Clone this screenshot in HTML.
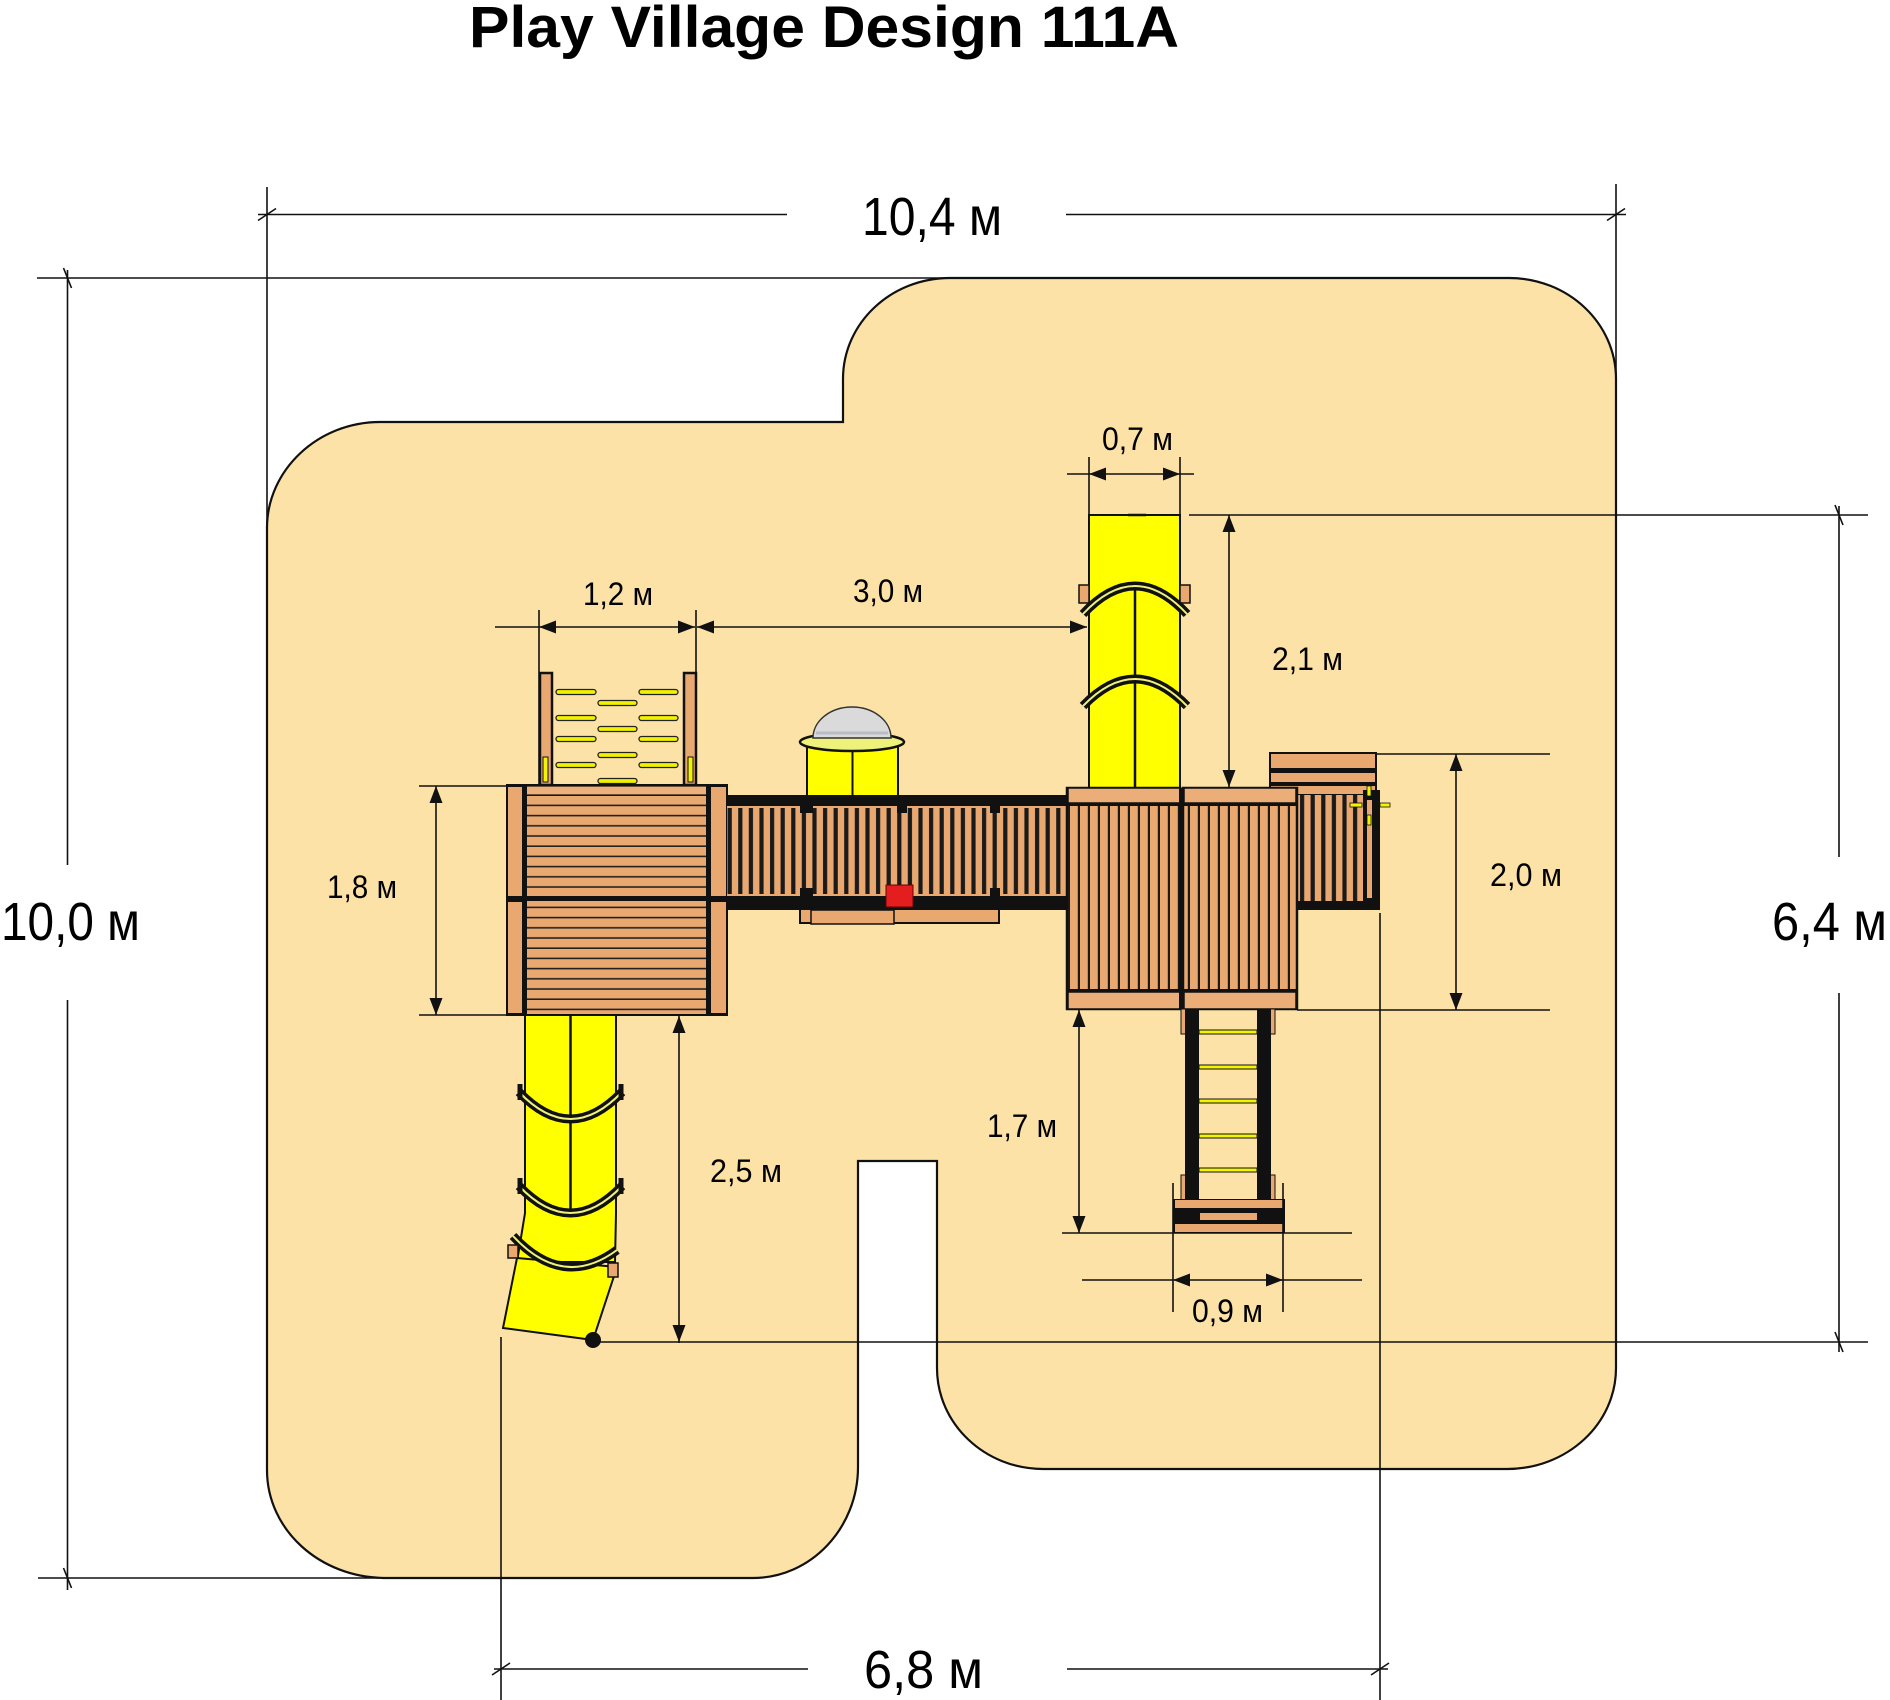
<!DOCTYPE html>
<html><head><meta charset="utf-8"><style>html,body{margin:0;padding:0;background:#fff}svg{display:block}</style></head>
<body>
<svg width="1890" height="1700" viewBox="0 0 1890 1700" xmlns="http://www.w3.org/2000/svg" font-family="'Liberation Sans', Arial, sans-serif">
<defs>
<pattern id="hpl" patternUnits="userSpaceOnUse" x="0" y="796" width="20" height="10.2">
 <rect width="20" height="10.2" fill="#E9A870"/>
 <rect y="8.6" width="20" height="1.6" fill="#222"/>
</pattern>
<pattern id="brs" patternUnits="userSpaceOnUse" x="729" y="0" width="10.6" height="20">
 <rect width="10.6" height="20" fill="#1a1a1a"/>
 <rect x="2.8" width="6.4" height="20" fill="#E9A870"/>
</pattern>
<pattern id="tws" patternUnits="userSpaceOnUse" x="1070" y="0" width="10" height="20">
 <rect width="10" height="20" fill="#E9A870"/>
 <rect x="7.8" width="2.2" height="20" fill="#1a1a1a"/>
</pattern>
</defs>

<!-- Title -->
<text x="469" y="47" font-size="58" font-weight="bold" textLength="710" lengthAdjust="spacingAndGlyphs" fill="#000">Play Village Design 111A</text>

<!-- Sand area -->
<path d="M267,528 C267,470 318,422 380,422 L843,422 L843,379 C843,323 891,278 950,278 L1509,278 C1568,278 1616,323 1616,379 L1616,1368 C1616,1424 1567,1469 1507,1469 L1043,1469 C985,1469 937,1424 937,1368 L937,1161 L858,1161 L858,1467 C858,1528 811,1578 753,1578 L386,1578 C320,1578 267,1530 267,1470 Z" fill="#FCE2A7" stroke="#111" stroke-width="2.2"/>

<!-- ===== Left tower ===== -->
<!-- climbing wall rails -->
<rect x="540" y="673" width="12" height="112" fill="#E9A870" stroke="#111" stroke-width="2.5"/>
<rect x="543" y="757" width="5" height="25" fill="#F4F400" stroke="#111" stroke-width="1"/>
<rect x="684" y="673" width="12" height="112" fill="#E9A870" stroke="#111" stroke-width="2.5"/>
<rect x="688" y="757" width="5" height="25" fill="#F4F400" stroke="#111" stroke-width="1"/>
<!-- holds -->
<g fill="#F2F200" stroke="#222" stroke-width="1.3">
 <rect x="556" y="689.5" width="40" height="5" rx="2.5"/><rect x="639" y="689.5" width="39" height="5" rx="2.5"/>
 <rect x="556" y="715.5" width="40" height="5" rx="2.5"/><rect x="639" y="715.5" width="39" height="5" rx="2.5"/>
 <rect x="556" y="736.5" width="40" height="5" rx="2.5"/><rect x="639" y="736.5" width="39" height="5" rx="2.5"/>
 <rect x="556" y="762.5" width="40" height="5" rx="2.5"/><rect x="639" y="762.5" width="39" height="5" rx="2.5"/>
 <rect x="598" y="700.5" width="39" height="5" rx="2.5"/>
 <rect x="598" y="726.5" width="39" height="5" rx="2.5"/>
 <rect x="598" y="752.5" width="39" height="5" rx="2.5"/>
 <rect x="598" y="778.5" width="39" height="5" rx="2.5"/>
</g>
<!-- deck -->
<rect x="507" y="785" width="220" height="230" fill="#E9A870" stroke="#111" stroke-width="2"/>
<rect x="523" y="786" width="187" height="228" fill="url(#hpl)"/>
<rect x="523" y="786" width="187" height="9" fill="#EDB07A" stroke="#111" stroke-width="1.2"/>
<rect x="507" y="786" width="16" height="111" fill="#E9A870" stroke="#111" stroke-width="2"/>
<rect x="507" y="901" width="16" height="113" fill="#E9A870" stroke="#111" stroke-width="2"/>
<rect x="710" y="786" width="17" height="111" fill="#E9A870" stroke="#111" stroke-width="2"/>
<rect x="710" y="901" width="17" height="113" fill="#E9A870" stroke="#111" stroke-width="2"/>
<rect x="507" y="896" width="220" height="5" fill="#111"/>
<rect x="523" y="786" width="4" height="228" fill="#111"/>
<rect x="706" y="786" width="4" height="228" fill="#111"/>

<!-- ===== Bridge ===== -->
<rect x="800" y="903" width="199" height="20" fill="#E9A870" stroke="#111" stroke-width="2"/>
<rect x="811" y="910" width="83" height="14" fill="#E9A870" stroke="#111" stroke-width="1.5"/>
<rect x="727" y="795" width="341" height="115" fill="url(#brs)"/>
<rect x="727" y="795" width="341" height="11" fill="#111"/>
<rect x="727" y="806" width="341" height="2" fill="#E9A870"/>
<rect x="727" y="894" width="341" height="2" fill="#E9A870"/>
<rect x="727" y="896" width="341" height="14" fill="#111"/>
<g fill="#111">
 <rect x="800" y="795" width="13" height="18"/><rect x="800" y="888" width="13" height="22"/>
 <rect x="897" y="795" width="10" height="18"/><rect x="897" y="888" width="10" height="22"/>
 <rect x="990" y="795" width="10" height="18"/><rect x="990" y="888" width="10" height="22"/>
</g>
<rect x="886" y="885" width="27" height="22" fill="#E41E1E" stroke="#600" stroke-width="1"/>

<!-- dome / periscope -->
<rect x="807" y="740" width="91" height="56" fill="#FFFF00" stroke="#111" stroke-width="2"/>
<line x1="852.5" y1="740" x2="852.5" y2="795" stroke="#111" stroke-width="2"/>
<ellipse cx="852" cy="742" rx="52" ry="9" fill="#EEF27A" stroke="#111" stroke-width="2.5"/>
<path d="M813,738 A39,31 0 0 1 891,738 Z" fill="#DADADA" stroke="#333" stroke-width="1.5"/>
<path d="M816,733 L888,733" stroke="#B8BCC8" stroke-width="3"/>

<!-- ===== Right tower ===== -->
<rect x="1089" y="515" width="91" height="274" fill="#FFFF00" stroke="#111" stroke-width="2"/>
<line x1="1128" y1="515" x2="1146" y2="515" stroke="#111" stroke-width="2.5"/>
<line x1="1135" y1="583" x2="1135" y2="790" stroke="#111" stroke-width="2.5"/>
<rect x="1079" y="585" width="10" height="18" fill="#E9A870" stroke="#111" stroke-width="1.5"/>
<rect x="1180" y="585" width="10" height="18" fill="#E9A870" stroke="#111" stroke-width="1.5"/>
<path d="M1083,614 Q1135,558 1187,614" fill="none" stroke="#111" stroke-width="9"/>
<path d="M1083,614 Q1135,558 1187,614" fill="none" stroke="#EEF27A" stroke-width="2"/>
<path d="M1083,706 Q1135,652 1187,706" fill="none" stroke="#111" stroke-width="9"/>
<path d="M1083,706 Q1135,652 1187,706" fill="none" stroke="#EEF27A" stroke-width="2"/>

<!-- right bench & small bridge -->
<rect x="1270" y="753" width="106" height="42" fill="#E9A870" stroke="#111" stroke-width="2"/>
<rect x="1270" y="768" width="106" height="5" fill="#111"/>
<rect x="1270" y="782" width="106" height="4" fill="#111"/>
<rect x="1297" y="795" width="75" height="115" fill="url(#brs)"/>
<rect x="1297" y="901" width="80" height="9" fill="#111"/>
<rect x="1363" y="790" width="17" height="120" fill="#111"/>
<rect x="1367" y="800" width="5" height="98" fill="#E9A870"/>
<g fill="#F4F400" stroke="#111" stroke-width="0.8">
 <rect x="1350" y="803" width="12" height="4"/><rect x="1380" y="803" width="10" height="4"/>
 <rect x="1367" y="786" width="4" height="10"/><rect x="1367" y="815" width="4" height="10"/>
</g>

<!-- tower sections -->
<rect x="1067" y="788" width="113" height="221" fill="url(#tws)" stroke="#111" stroke-width="2.5"/>
<rect x="1183" y="788" width="114" height="221" fill="url(#tws)" stroke="#111" stroke-width="2.5"/>
<rect x="1068" y="788" width="112" height="15" fill="#EBAE78" stroke="#111" stroke-width="1.5"/>
<rect x="1184" y="788" width="112" height="15" fill="#EBAE78" stroke="#111" stroke-width="1.5"/>
<rect x="1068" y="992" width="112" height="17" fill="#EBAE78" stroke="#111" stroke-width="1.5"/>
<rect x="1184" y="992" width="112" height="17" fill="#EBAE78" stroke="#111" stroke-width="1.5"/>
<rect x="1067" y="803" width="230" height="3" fill="#111"/>
<rect x="1067" y="989" width="230" height="3" fill="#111"/>
<rect x="1179" y="788" width="5" height="221" fill="#111"/>

<!-- ladder -->
<g fill="#E9A870" stroke="#111" stroke-width="1">
 <rect x="1181" y="1009" width="5" height="25"/><rect x="1270" y="1009" width="5" height="25"/>
 <rect x="1181" y="1175" width="5" height="25"/><rect x="1270" y="1175" width="5" height="25"/>
</g>
<rect x="1185" y="1009" width="14" height="214" fill="#111"/>
<rect x="1257" y="1009" width="14" height="214" fill="#111"/>
<g fill="#F4F400" stroke="#111" stroke-width="1">
 <rect x="1199" y="1030" width="58" height="4"/>
 <rect x="1199" y="1065" width="58" height="4"/>
 <rect x="1199" y="1099" width="58" height="4"/>
 <rect x="1199" y="1134" width="58" height="4"/>
 <rect x="1199" y="1168" width="58" height="4"/>
</g>
<rect x="1173" y="1199" width="112" height="34" fill="#111"/>
<rect x="1175" y="1200" width="108" height="8" fill="#E9A870"/>
<rect x="1200" y="1213" width="57" height="7" fill="#E9A870"/>
<rect x="1175" y="1224" width="108" height="8" fill="#E9A870"/>

<!-- ===== Left slide ===== -->
<path d="M525,1015 L616,1015 L616,1213 L615,1262 L517,1262 L525,1213 Z" fill="#FFFF00" stroke="#111" stroke-width="2"/>
<path d="M517,1258 L617,1267 L593,1340 L503,1328 Z" fill="#FFFF00" stroke="#111" stroke-width="2"/>
<line x1="570.5" y1="1015" x2="570.5" y2="1213" stroke="#111" stroke-width="2.5"/>
<path d="M519,1092 Q570.5,1146 622,1092" fill="none" stroke="#111" stroke-width="9"/>
<path d="M519,1092 Q570.5,1146 622,1092" fill="none" stroke="#EEF27A" stroke-width="2"/>
<line x1="520" y1="1084" x2="520" y2="1100" stroke="#111" stroke-width="5"/>
<line x1="621" y1="1084" x2="621" y2="1100" stroke="#111" stroke-width="5"/>
<path d="M519,1186 Q570.5,1240 622,1186" fill="none" stroke="#111" stroke-width="9"/>
<path d="M519,1186 Q570.5,1240 622,1186" fill="none" stroke="#EEF27A" stroke-width="2"/>
<line x1="520" y1="1178" x2="520" y2="1194" stroke="#111" stroke-width="5"/>
<line x1="621" y1="1178" x2="621" y2="1194" stroke="#111" stroke-width="5"/>
<path d="M513,1236 Q563,1290 617,1250" fill="none" stroke="#111" stroke-width="9"/>
<path d="M513,1236 Q563,1290 617,1250" fill="none" stroke="#EEF27A" stroke-width="2"/>
<rect x="508" y="1245" width="10" height="13" fill="#E9A870" stroke="#111" stroke-width="1.5"/>
<rect x="608" y="1263" width="10" height="14" fill="#E9A870" stroke="#111" stroke-width="1.5"/>
<circle cx="593" cy="1340" r="8" fill="#111"/>

<!-- ===== Dimension lines ===== -->
<g stroke="#111" stroke-width="1.6" fill="none">
 <!-- 10,4 -->
 <line x1="258" y1="214.5" x2="787" y2="214.5"/>
 <line x1="1066" y1="214.5" x2="1626" y2="214.5"/>
 <line x1="267" y1="187" x2="267" y2="528"/>
 <line x1="1616" y1="184" x2="1616" y2="379"/>
 <!-- 10,0 -->
 <line x1="37" y1="278" x2="950" y2="278"/>
 <line x1="67.5" y1="270" x2="67.5" y2="865"/>
 <line x1="67.5" y1="1000" x2="67.5" y2="1590"/>
 <line x1="38" y1="1578" x2="386" y2="1578"/>
 <!-- 6,4 -->
 <line x1="1189" y1="515" x2="1868" y2="515"/>
 <line x1="1839" y1="506" x2="1839" y2="857"/>
 <line x1="1839" y1="993" x2="1839" y2="1352"/>
 <line x1="591" y1="1342" x2="1868" y2="1342"/>
 <!-- 6,8 -->
 <line x1="501" y1="1337" x2="501" y2="1700"/>
 <line x1="1380" y1="913" x2="1380" y2="1700"/>
 <line x1="494" y1="1669" x2="808" y2="1669"/>
 <line x1="1067" y1="1669" x2="1388" y2="1669"/>
 <!-- ticks -->
 <line x1="258" y1="220.5" x2="276" y2="208.5"/>
 <line x1="1607" y1="220.5" x2="1625" y2="208.5"/>
 <line x1="63.5" y1="268" x2="71.5" y2="288"/>
 <line x1="63.5" y1="1568" x2="71.5" y2="1588"/>
 <line x1="1835" y1="505" x2="1843" y2="525"/>
 <line x1="1835" y1="1332" x2="1843" y2="1352"/>
 <line x1="492" y1="1675" x2="510" y2="1663"/>
 <line x1="1371" y1="1675" x2="1389" y2="1663"/>
 <!-- small extension lines -->
 <line x1="539" y1="610" x2="539" y2="786"/>
 <line x1="696" y1="610" x2="696" y2="786"/>
 <line x1="1089" y1="457" x2="1089" y2="515"/>
 <line x1="1180" y1="457" x2="1180" y2="515"/>
 <line x1="1376" y1="754" x2="1550" y2="754"/>
 <line x1="1297" y1="1010" x2="1550" y2="1010"/>
 <line x1="419" y1="786" x2="507" y2="786"/>
 <line x1="419" y1="1015" x2="507" y2="1015"/>
 <line x1="1062" y1="1233" x2="1352" y2="1233"/>
 <line x1="1173" y1="1183" x2="1173" y2="1312"/>
 <line x1="1283" y1="1183" x2="1283" y2="1312"/>
 <!-- small dimension lines -->
 <line x1="495" y1="627" x2="695" y2="627"/>
 <line x1="697" y1="627" x2="1087" y2="627"/>
 <line x1="1067" y1="474" x2="1194" y2="474"/>
 <line x1="1229" y1="515" x2="1229" y2="787"/>
 <line x1="1456" y1="754" x2="1456" y2="1010"/>
 <line x1="436" y1="786" x2="436" y2="1015"/>
 <line x1="679" y1="1015" x2="679" y2="1343"/>
 <line x1="1079" y1="1010" x2="1079" y2="1233"/>
 <line x1="1082" y1="1280" x2="1362" y2="1280"/>
</g>

<!-- arrowheads -->
<g fill="#111">
 <polygon points="539,627 556,620.5 556,633.5"/>
 <polygon points="695,627 678,620.5 678,633.5"/>
 <polygon points="697,627 714,620.5 714,633.5"/>
 <polygon points="1087,627 1070,620.5 1070,633.5"/>
 <polygon points="1089,474 1106,467.5 1106,480.5"/>
 <polygon points="1180,474 1163,467.5 1163,480.5"/>
 <polygon points="1229,515 1222.5,532 1235.5,532"/>
 <polygon points="1229,787 1222.5,770 1235.5,770"/>
 <polygon points="1456,754 1449.5,771 1462.5,771"/>
 <polygon points="1456,1010 1449.5,993 1462.5,993"/>
 <polygon points="436,786 429.5,803 442.5,803"/>
 <polygon points="436,1015 429.5,998 442.5,998"/>
 <polygon points="679,1016 672.5,1033 685.5,1033"/>
 <polygon points="679,1342 672.5,1325 685.5,1325"/>
 <polygon points="1079,1010 1072.5,1027 1085.5,1027"/>
 <polygon points="1079,1233 1072.5,1216 1085.5,1216"/>
 <polygon points="1173,1280 1190,1273.5 1190,1286.5"/>
 <polygon points="1283,1280 1266,1273.5 1266,1286.5"/>
</g>

<!-- labels -->
<g fill="#000">
 <text x="862" y="235" font-size="54" textLength="140" lengthAdjust="spacingAndGlyphs">10,4 м</text>
 <text x="1" y="940" font-size="54" textLength="139" lengthAdjust="spacingAndGlyphs">10,0 м</text>
 <text x="1772" y="940" font-size="54" textLength="115" lengthAdjust="spacingAndGlyphs">6,4 м</text>
 <text x="864" y="1688" font-size="54" textLength="119" lengthAdjust="spacingAndGlyphs">6,8 м</text>

 <text x="583" y="605" font-size="32" textLength="70" lengthAdjust="spacingAndGlyphs">1,2 м</text>
 <text x="853" y="602" font-size="32" textLength="70" lengthAdjust="spacingAndGlyphs">3,0 м</text>
 <text x="1102" y="450" font-size="32" textLength="71" lengthAdjust="spacingAndGlyphs">0,7 м</text>
 <text x="1272" y="670" font-size="32" textLength="71" lengthAdjust="spacingAndGlyphs">2,1 м</text>
 <text x="1490" y="886" font-size="32" textLength="72" lengthAdjust="spacingAndGlyphs">2,0 м</text>
 <text x="327" y="898" font-size="32" textLength="70" lengthAdjust="spacingAndGlyphs">1,8 м</text>
 <text x="710" y="1182" font-size="32" textLength="72" lengthAdjust="spacingAndGlyphs">2,5 м</text>
 <text x="987" y="1137" font-size="32" textLength="70" lengthAdjust="spacingAndGlyphs">1,7 м</text>
 <text x="1192" y="1322" font-size="32" textLength="71" lengthAdjust="spacingAndGlyphs">0,9 м</text>
</g>
</svg>
</body></html>
